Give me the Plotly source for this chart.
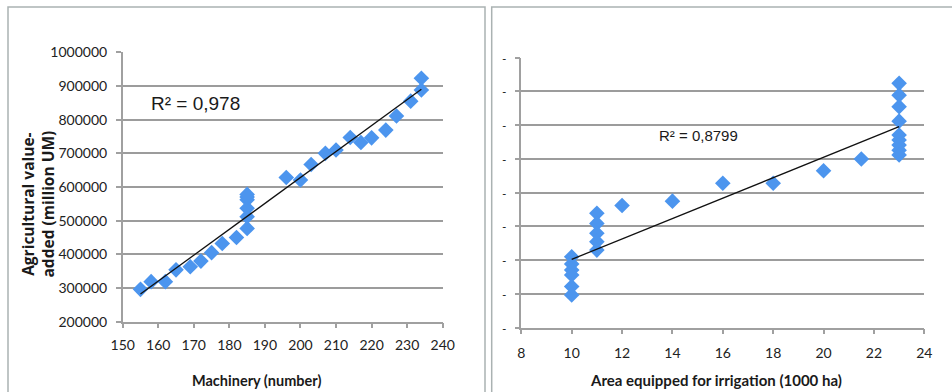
import plotly.graph_objects as go

# ---------------- data ----------------
machinery = [155, 158, 162, 165, 169, 172, 175, 178, 182, 185, 185, 185, 185, 185, 185,
             196, 200, 203, 207, 210, 214, 217, 220, 224, 227, 231, 234, 234]
value_added_m = [296000, 319000, 319000, 354000, 363000, 380000, 405000, 432000, 450000,
                 477000, 512000, 537000, 562000, 570000, 578000,
                 628000, 621000, 667000, 700000, 710000, 747000, 732000, 746000, 769000,
                 811000, 855000, 888000, 923000]
trend_m_x = [155, 234]
trend_m_y = [282000, 890000]
r2_m = "R² = 0,978"

irrigation = [10, 10, 10, 10, 10, 10, 11, 11, 11, 11, 11, 12, 14, 16, 18, 20, 21.5,
              23, 23, 23, 23, 23, 23, 23, 23, 23]
value_added_i = [410000, 389000, 371000, 356000, 322000, 297000,
                 539000, 509000, 480000, 455000, 430000,
                 562000, 575000, 628000, 628000, 665000, 700000,
                 924000, 889000, 855000, 812000, 771000, 756000, 741000, 726000, 712000]
trend_i_x = [10, 23]
trend_i_y = [402500, 795600]
r2_i = "R² = 0,8799"

y_ticks = [200000, 300000, 400000, 500000, 600000, 700000, 800000, 900000, 1000000]
y_ticktext = ["200000", "300000", "400000", "500000", "600000", "700000", "800000",
              "900000", "1000000"]
x_ticks_m = [150, 160, 170, 180, 190, 200, 210, 220, 230, 240]
x_ticks_i = [8, 10, 12, 14, 16, 18, 20, 22, 24]

# ---------------- figure ----------------
W, H = 952, 392
def px(x): return x / W
def py(y): return 1 - y / H

marker = dict(symbol="diamond", size=12, color="#4c95ee", line=dict(width=0))
fig = go.Figure()
fig.add_trace(go.Scatter(x=machinery, y=value_added_m, mode="markers", marker=marker,
                         xaxis="x", yaxis="y", showlegend=False))
fig.add_trace(go.Scatter(x=trend_m_x, y=trend_m_y, mode="lines",
                         line=dict(color="#111111", width=1.3),
                         xaxis="x", yaxis="y", showlegend=False))
fig.add_trace(go.Scatter(x=irrigation, y=value_added_i, mode="markers", marker=marker,
                         xaxis="x2", yaxis="y2", showlegend=False))
fig.add_trace(go.Scatter(x=trend_i_x, y=trend_i_y, mode="lines",
                         line=dict(color="#111111", width=1.3),
                         xaxis="x2", yaxis="y2", showlegend=False))

tickfont = dict(family="Lato, Arial, sans-serif", size=14, color="#222222")
axis_common = dict(showline=True, linecolor="#a0a0a0", linewidth=1.5,
                   ticks="outside", ticklen=5, tickcolor="#a0a0a0", tickwidth=1.5,
                   zeroline=False, automargin=False)

fig.update_layout(
    width=W, height=H, autosize=False,
    margin=dict(l=0, r=0, t=0, b=0, pad=0),
    paper_bgcolor="white", plot_bgcolor="white",
    xaxis=dict(domain=[px(122.7), px(442.7)], range=[150, 240], tickvals=x_ticks_m,
               showgrid=False, anchor="y", ticklabelstandoff=5, tickfont=tickfont,
               **axis_common),
    yaxis=dict(domain=[py(321.7), py(52.3)], range=[200000, 1000000], tickmode="array",
               tickvals=y_ticks, ticktext=y_ticktext,
               showgrid=True, gridcolor="#9c9c9c", gridwidth=1.5, anchor="x",
               ticklabelstandoff=6, tickfont=tickfont, **axis_common),
    xaxis2=dict(domain=[px(521.3), px(924.3)], range=[8, 24], tickvals=x_ticks_i,
                showgrid=False, anchor="y2", ticklabelstandoff=7, tickfont=tickfont,
                **axis_common),
    yaxis2=dict(domain=[py(327.7), py(57.7)], range=[200000, 1000000], tickmode="array",
                tickvals=y_ticks, ticktext=["-"] * len(y_ticks),
                showgrid=True, gridcolor="#9c9c9c", gridwidth=1.5, anchor="x2",
                ticklabelstandoff=6,
                tickfont=dict(family="Arial Black, DejaVu Sans, sans-serif", size=11,
                              color="#111111"),
                **axis_common),
    shapes=[
        dict(type="rect", xref="paper", yref="paper", x0=px(8), x1=px(485),
             y0=py(7), y1=py(420), line=dict(color="#aab2b2", width=1.5)),
        dict(type="rect", xref="paper", yref="paper", x0=px(491.7), x1=px(990),
             y0=py(7), y1=py(420), line=dict(color="#aab2b2", width=1.5)),
    ],
    annotations=[
        dict(text=r2_m, xref="paper", yref="paper", x=px(149), y=py(103),
             xanchor="left", yanchor="middle", showarrow=False,
             font=dict(family="Liberation Sans, Arial, sans-serif", size=19, color="#1a1a1a")),
        dict(text=r2_i, xref="paper", yref="paper", x=px(657), y=py(136),
             xanchor="left", yanchor="middle", showarrow=False,
             font=dict(family="Liberation Sans, Arial, sans-serif", size=15, color="#1a1a1a")),
        dict(text="<b>Agricultural value-<br>added (million UM)</b>", xref="paper", yref="paper",
             x=px(37.5), y=py(204), xanchor="center", yanchor="middle", textangle=-90,
             showarrow=False,
             font=dict(family="Open Sans, Arial, sans-serif", size=15.5, color="#1a1a1a")),
        dict(text="<b>Machinery (number)</b>", xref="paper", yref="paper",
             x=px(256), y=py(380), xanchor="center", yanchor="middle", showarrow=False,
             font=dict(family="Lato, Arial, sans-serif", size=14.5, color="#1a1a1a")),
        dict(text="<b>Area equipped for irrigation (1000 ha)</b>", xref="paper", yref="paper",
             x=px(716), y=py(380), xanchor="center", yanchor="middle", showarrow=False,
             font=dict(family="Lato, Arial, sans-serif", size=15, color="#1a1a1a")),
    ],
)

fig.write_html("out.html", config={"displayModeBar": False},
               post_script="document.body.style.margin='0';document.body.style.overflow='hidden';")
